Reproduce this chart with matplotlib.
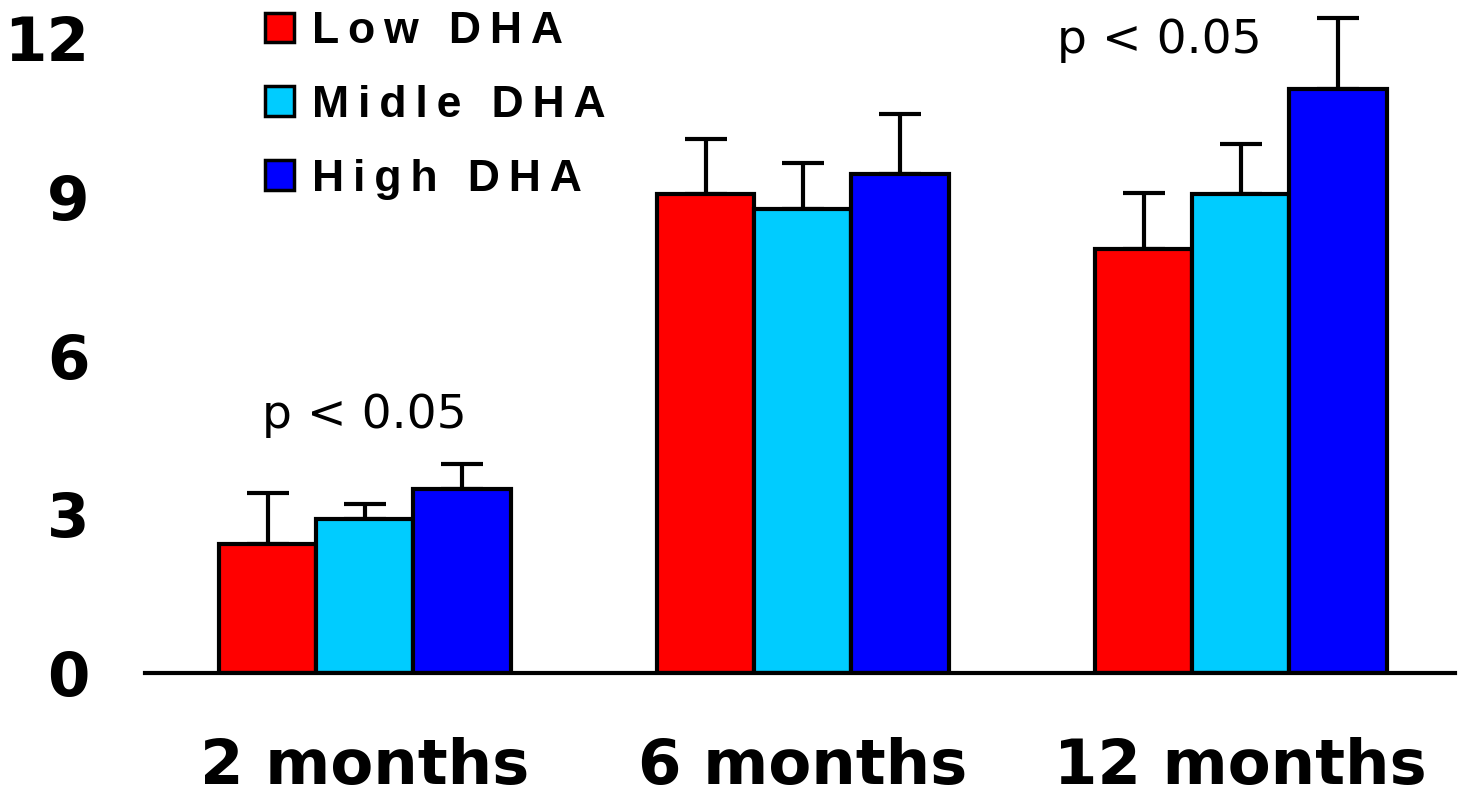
import numpy as np
import matplotlib.pyplot as plt
from matplotlib.patches import Patch

plt.rcParams['font.family'] = ['DejaVu Sans']

groups = ['2 months', '6 months', '12 months']
series = ['Low DHA', 'Midle DHA', 'High DHA']
low_dha = [2.44, 9.05, 8.01]
mid_dha = [2.91, 8.77, 9.05]
high_dha = [3.48, 9.43, 11.04]
low_err = [0.96, 1.04, 1.06]
mid_err = [0.28, 0.87, 0.95]
high_err = [0.47, 1.14, 1.34]
colors = ['#FF0000', '#00CCFF', '#0000FF']
yticks = [0, 3, 6, 9, 12]
p_labels = ['p < 0.05', 'p < 0.05']

fig = plt.figure(figsize=(14.6, 8), dpi=100)
ax = fig.add_axes([145 / 1460, 127 / 800, 1310 / 1460, 661 / 800])

x = np.arange(len(groups))
w = 0.222
vals = [low_dha, mid_dha, high_dha]
errs = [low_err, mid_err, high_err]
for i in range(3):
    ax.bar(x + (i - 1) * w, vals[i], w, color=colors[i], edgecolor='black',
           linewidth=3, zorder=2)
    ax.errorbar(x + (i - 1) * w, vals[i], yerr=[np.zeros(3), errs[i]],
                fmt='none', ecolor='black', elinewidth=3, capsize=15,
                capthick=3, zorder=1, clip_on=False)

ax.set_xlim(-0.502, 2.489)
ax.set_ylim(0, 12.5)
ax.set_yticks(yticks)
ax.set_yticklabels([str(t) for t in yticks], fontsize=44, fontweight='bold')
ax.set_xticks(x)
ax.set_xticklabels(groups, fontsize=45, fontweight='bold')
ax.tick_params(axis='y', length=0, pad=40)
ax.tick_params(axis='x', length=0, pad=46)
for s in ['top', 'right', 'left']:
    ax.spines[s].set_visible(False)
ax.spines['bottom'].set_linewidth(3)
ax.spines['bottom'].set_zorder(3)

ax.text(0, 4.64, p_labels[0], fontsize=34, ha='center', va='baseline')
ax.text(1.814, 11.72, p_labels[1], fontsize=34, ha='center', va='baseline')

handles = [Patch(facecolor=c, edgecolor='black', linewidth=2.5) for c in colors]
spaced = ['\u2009'.join(s) for s in series]
fig.legend(handles, spaced, loc='upper left', bbox_to_anchor=(265 / 1460, 1 - 11 / 800),
           frameon=False, borderpad=0, borderaxespad=0, handlelength=0.65,
           handleheight=0.65, handletextpad=0.4, labelspacing=0.74,
           prop={'family': ['Liberation Sans', 'DejaVu Sans'], 'weight': 'bold', 'size': 32})

fig.savefig('out.png', dpi=100)
